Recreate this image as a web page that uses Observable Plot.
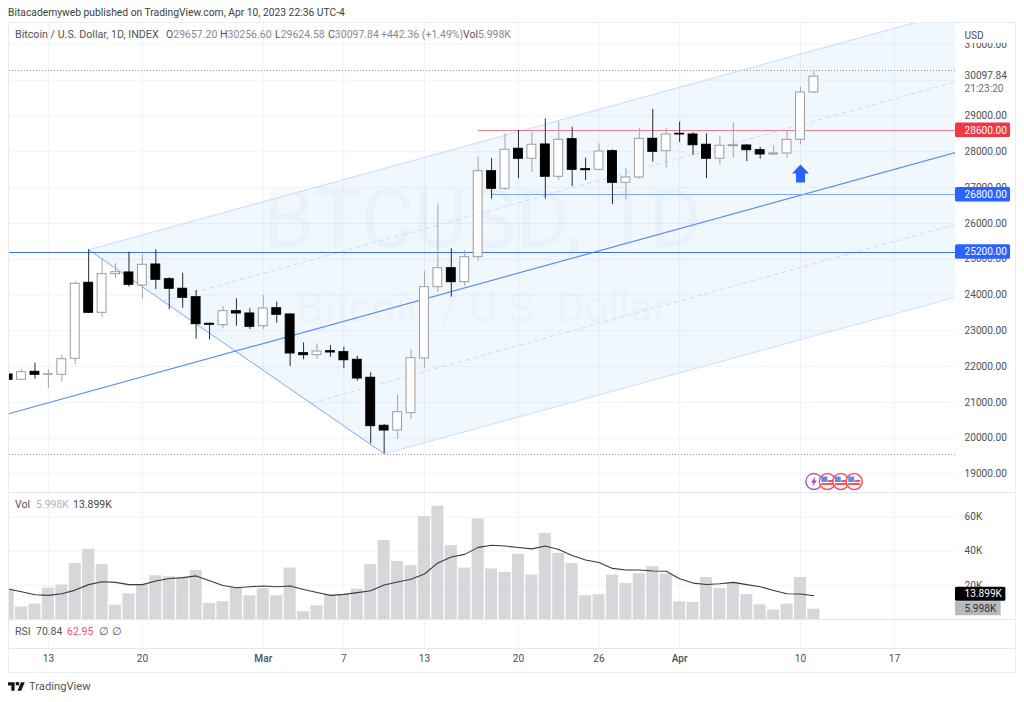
<!DOCTYPE html>
<html><head><meta charset="utf-8">
<script src="https://cdn.jsdelivr.net/npm/d3@7"></script>
<script src="https://cdn.jsdelivr.net/npm/@observablehq/plot@0.6"></script>
<style>
html,body{margin:0;padding:0;background:#fff;overflow:hidden}
#page{position:relative;width:1024px;height:702px;font-family:Roboto,sans-serif;color:#555;overflow:hidden}
.t{position:absolute;white-space:nowrap;font-size:10.5px;line-height:12px}
.pane{position:absolute;left:8px}
.pane svg{display:block}
.sep{position:absolute;left:8px;width:1007px;height:0;border-top:1px solid #e4e7ef}
#frame{position:absolute;left:8px;top:22px;width:1006px;height:649px;border:1px solid #e9ecf3}
</style></head><body>
<div id="page">
<div class="pane" id="price" style="top:23px"></div>
<div class="pane" id="vol" style="top:492px"></div>
<div class="pane" id="rsi" style="top:619px"></div>
<div id="frame"></div>
<div class="sep" style="top:492px"></div>
<div class="sep" style="top:619px"></div>
<div class="sep" style="top:648px"></div>
<div class="t" style="left:8px;top:7px;color:#3c3c3c;font-size:10.3px">Bitacademyweb published on TradingView.com, Apr 10, 2023 22:36 UTC-4</div>
<div class="t" style="left:15px;top:29px;font-size:10.7px">Bitcoin / U.S. Dollar, 1D, INDEX</div>
<div class="t" style="left:166px;top:29px;color:#8a8a8a"><b style="font-weight:400;color:#555">O</b>29657.20</div>
<div class="t" style="left:220px;top:29px;color:#8a8a8a"><b style="font-weight:400;color:#555">H</b>30256.60</div>
<div class="t" style="left:275px;top:29px;color:#8a8a8a"><b style="font-weight:400;color:#555">L</b>29624.58</div>
<div class="t" style="left:328px;top:29px;color:#8a8a8a"><b style="font-weight:400;color:#555">C</b>30097.84</div>
<div class="t" style="left:381px;top:29px;color:#8a8a8a">+442.36 (+1.49%)</div>
<div class="t" style="left:463px;top:29px;color:#8a8a8a"><b style="font-weight:400;color:#555">Vol</b>5.998K</div>
<div class="t" style="left:15px;top:499px">Vol</div>
<div class="t" style="left:36px;top:499px;color:#b4b4b8">5.998K</div>
<div class="t" style="left:73px;top:499px;color:#444">13.899K</div>
<div class="t" style="left:15px;top:626px">RSI</div>
<div class="t" style="left:36px;top:626px;color:#555">70.84</div>
<div class="t" style="left:67px;top:626px;color:#f7525f">62.95</div>
<div class="t" style="left:99px;top:626px">∅</div>
<div class="t" style="left:112px;top:626px">∅</div>
<svg style="position:absolute;left:8px;top:682px" width="17" height="9" viewBox="0 4 36 18"><path d="M14 22H7V11H0V4h14v18zM28 22h-8l7.5-18h8L28 22z" fill="#131722"/><circle cx="20" cy="7" r="4" fill="#131722"/></svg>
<div class="t" style="left:29px;top:681px;font-size:11.2px;color:#555">TradingView</div>
</div>
<script>
// --- Candle data -----------------------------------------------------------
const dates = ["2023-02-10","2023-02-11","2023-02-12","2023-02-13","2023-02-14","2023-02-15","2023-02-16","2023-02-17","2023-02-18","2023-02-19","2023-02-20","2023-02-21","2023-02-22","2023-02-23","2023-02-24","2023-02-25","2023-02-26","2023-02-27","2023-02-28","2023-03-01","2023-03-02","2023-03-03","2023-03-04","2023-03-05","2023-03-06","2023-03-07","2023-03-08","2023-03-09","2023-03-10","2023-03-11","2023-03-12","2023-03-13","2023-03-14","2023-03-15","2023-03-16","2023-03-17","2023-03-18","2023-03-19","2023-03-20","2023-03-21","2023-03-22","2023-03-23","2023-03-24","2023-03-25","2023-03-26","2023-03-27","2023-03-28","2023-03-29","2023-03-30","2023-03-31","2023-04-01","2023-04-02","2023-04-03","2023-04-04","2023-04-05","2023-04-06","2023-04-07","2023-04-08","2023-04-09","2023-04-10","2023-04-11"];
const opens = [21779,21631,21854,21771,21771,22217,24340,23502,24580,24628,24265,24851,24441,24173,23938,23195,23156,23547,23483,23128,23631,23455,22374,22318,22430,22402,22190,21687,20346,20215,20698,22226,24217,24748,24357,25055,27457,26966,28083,27804,28203,27301,28351,27513,27496,28016,27133,27281,28362,28016,28502,28482,28195,27804,28155,28175,28044,27924,27952,28334,29657.2];
const highs = [21947,21910,22095,21910,22310,24368,25262,25011,24871,25195,25122,25262,24480,24608,24125,23212,23678,23893,23614,23985,23798,23474,22664,22636,22589,22542,22290,21826,20380,21212,22469,24656,26547,25290,25242,27848,27804,28502,28594,28530,28921,28826,28686,27820,28222,28055,27524,28658,29181,28658,28826,28530,28502,28446,28798,28195,28127,28175,28566,29803,30256.6];
const lows = [21444,21611,21648,21388,21556,22050,23480,23379,24452,24217,23874,24153,23586,23631,22765,22748,23055,23128,23036,23036,23212,22002,22190,22198,22262,21938,21592,19843,19564,19964,20522,21955,24069,23938,24237,24943,26675,26918,27245,27421,26675,27197,27030,27197,27477,26527,26658,27240,27709,27541,28259,27896,27253,27625,27832,27728,27792,27887,27820,28195,29624.58];
const closes = [21631,21843,21771,21787,22206,24312,23502,24580,24636,24284,24843,24424,24173,23921,23184,23167,23547,23483,23111,23622,23446,22366,22318,22421,22393,22178,21667,20335,20215,20726,22234,24217,24748,24357,25055,27457,26966,28055,27804,28195,27301,28334,27496,27485,28007,27133,27281,28362,27999,28482,28482,28183,27804,28167,28183,28044,27924,27952,28334,29655,30097.84];
const volumes = [17.8,7.4,9.0,18.4,20.2,32.7,41.1,32.1,8.4,15.1,20.4,25.6,25.0,24.0,28.6,9.4,10.4,18.6,13.9,18.0,13.9,30.1,4.5,8.0,13.9,14.5,17.8,32.1,46.2,34.0,31.5,60.2,66.3,43.2,30.1,58.9,29.6,27.6,38.1,26.0,50.3,38.7,32.7,13.9,14.5,26.0,21.1,26.8,30.9,26.6,10.4,10.0,24.6,18.2,21.7,14.5,8.6,5.5,9.0,24.6,5.998];
const volumeMA = [17.8,16.2,14.5,14.1,15.1,17.2,20.4,22.1,21.7,20.4,20.4,22.5,24.0,24.5,25.5,22.7,19.9,18.6,19.2,19.6,19.2,19.6,17.6,15.8,14.1,14.7,15.7,16.8,20.2,21.9,23.5,26.6,33.1,36.6,38.1,42.2,43.4,43.0,42.1,41.3,43.0,40.9,37.5,34.8,33.3,29.9,29.0,29.0,28.4,28.2,23.9,21.3,20.5,20.9,21.7,20.4,19.2,17.0,15.1,14.9,13.899];

// --- Axis ticks -------------------------------------------------------------
const gridPrices = [19000,20000,21000,22000,23000,24000,25000,26000,27000,28000,29000,30000,31000];
const axisPrices = [19000,20000,21000,22000,23000,24000,25000,26000,27000,28000,29000,31000];
const volTicks = [20,40,60];
const dayTicks = ["2023-02-13","2023-02-20","2023-03-07","2023-03-13","2023-03-20","2023-03-26","2023-04-10","2023-04-17"];
const dayTickLabels = ["13","20","7","13","20","26","10","17"];
const monthTicks = ["2023-03-01","2023-04-01"];
const monthTickLabels = ["Mar","Apr"];

// --- Drawing tools, in date/price terms ------------------------------------
const viewStart = "2023-02-10T02:30:00Z", viewEnd = "2023-04-21T13:00:00Z";
const highLow = [30256.6, 19558];
const fillX = ["2023-02-16","2023-03-10",viewEnd];
const fillUpper = [25262,27533,31917];
const fillLower = [25262,19564,23938];
const handleX = ["2023-02-16","2023-03-10"], handleY = [25262,19564];
const medianX = [viewStart,viewEnd], medianY = [20690,27979];
const upperX = ["2023-02-16",viewEnd], upperY = [25262,31917];
const lowerX = ["2023-03-10",viewEnd], lowerY = [19564,23938];
const dashUpX = ["2023-02-21T13:30:00Z",viewEnd], dashUpY = [23832,29949];
const dashLowX = ["2023-03-04T14:00:00Z",viewEnd], dashLowY = [20983,25968];
const levelPrices = [28600,26800,25200];
const levelStarts = ["2023-03-17","2023-03-18",viewStart];
const levelColors = ["#ee7f8a","#7fa8fa","#3f70e2"];
const levelPlates = ["#f23645","#2962ff","#2962ff"];
const arrowDate = "2023-04-10", arrowPrice = 27393;
const eventDates = ["2023-04-12","2023-04-13","2023-04-14"], lightningDate = "2023-04-11", eventPrice = 18790;

const D = s => new Date(s);
const shift = (d, days) => new Date(+d + days * 864e5);
const pts = (xs, ys) => xs.map((x, i) => ({x: D(x), y: ys[i]}));

const candles = dates.map((s, i) => ({date: D(s), open: opens[i], high: highs[i], low: lows[i], close: closes[i], vol: volumes[i], ma: volumeMA[i]}));
const up = candles.filter(d => d.close >= d.open);
const down = candles.filter(d => d.close < d.open);
const xDomain = [D(viewStart), D(viewEnd)];
const allX = [...dayTicks, ...monthTicks].map(D);
const W = 1007, gridC = "#f0f3fa", ink = "#4c4f57", axisFont = 10.15;
const style = {fontFamily: "Roboto, sans-serif", background: "transparent", color: ink, overflow: "visible"};

// glyph shapes for symbols
const arrowSym = {draw(c){c.moveTo(0,-9);c.lineTo(8.5,0);c.lineTo(4.5,0);c.lineTo(4.5,9);c.lineTo(-4.5,9);c.lineTo(-4.5,0);c.lineTo(-8.5,0);c.closePath();}};
const boltSym = {draw(c){c.moveTo(1.5,-5);c.lineTo(-3,1);c.lineTo(-0.5,1);c.lineTo(-1.5,5);c.lineTo(3,-1);c.lineTo(0.5,-1);c.closePath();}};
const flagBlue = {draw(c){c.rect(-6,-5,6,5.5);}};
const flagRed = {draw(c){c.rect(0.5,-1.5,5.5,2);c.rect(-6,1.5,12,2);}};

const rightEdge = D(viewEnd);
const plates = levelPrices.map((p, i) => ({p, c: levelPlates[i]}));

document.getElementById("price").append(Plot.plot({
  width: W, height: 469, marginLeft: 1, marginRight: 60, marginTop: 0, marginBottom: 0, style,
  x: {type: "utc", domain: xDomain, axis: null},
  y: {domain: [18483, 31582]},
  marks: [
    Plot.gridY(gridPrices, {stroke: gridC, strokeOpacity: 1}),
    Plot.gridX(allX, {stroke: gridC, strokeOpacity: 1}),
    Plot.text(["BTCUSD, 1D"], {frameAnchor: "middle", dy: -37, fontSize: 82, fill: "#787b86", fillOpacity: 0.045}),
    Plot.text(["Bitcoin / U.S. Dollar"], {frameAnchor: "middle", dy: 50, fontSize: 43, fill: "#787b86", fillOpacity: 0.05}),
    Plot.areaY(fillX.map((x, i) => ({x: D(x), a: fillLower[i], b: fillUpper[i]})), {x: "x", y1: "a", y2: "b", fill: "#2196f3", fillOpacity: 0.065, clip: true}),
    Plot.ruleY(highLow, {stroke: "#9a9a9a", strokeDasharray: "1,2", strokeWidth: 1, shapeRendering: "crispEdges"}),
    Plot.line(pts(upperX, upperY), {x: "x", y: "y", stroke: "#c8dcfb", strokeWidth: 1, clip: true}),
    Plot.line(pts(lowerX, lowerY), {x: "x", y: "y", stroke: "#c8dcfb", strokeWidth: 1, clip: true}),
    Plot.line(pts(dashUpX, dashUpY), {x: "x", y: "y", stroke: "#c8dcfb", strokeWidth: 1, strokeDasharray: "4,4", clip: true}),
    Plot.line(pts(dashLowX, dashLowY), {x: "x", y: "y", stroke: "#c8dcfb", strokeWidth: 1, strokeDasharray: "4,4", clip: true}),
    Plot.line(pts(handleX, handleY), {x: "x", y: "y", stroke: "#7ba6f6", strokeWidth: 1, clip: true}),
    Plot.line(pts(medianX, medianY), {x: "x", y: "y", stroke: "#5b8ef5", strokeWidth: 1.2, clip: true}),
    Plot.ruleY(levelPrices.map((p, i) => ({p, s: D(levelStarts[i]), c: levelColors[i]})), {y: "p", x1: "s", x2: () => rightEdge, stroke: "c", strokeWidth: 1, shapeRendering: "crispEdges"}),
    Plot.ruleX(down, {x: "date", y1: "low", y2: "high", stroke: "#2a2a2a", clip: true}),
    Plot.ruleX(up, {x: "date", y1: "low", y2: "high", stroke: "#a4a4a4", clip: true}),
    Plot.rect(up, {x1: d => shift(d.date, -0.33), x2: d => shift(d.date, 0.33), y1: "open", y2: "close", fill: "white", stroke: "#9c9c9c", clip: true}),
    Plot.rect(down, {x1: d => shift(d.date, -0.33), x2: d => shift(d.date, 0.33), y1: "open", y2: "close", fill: "black", stroke: "black", clip: true}),
    Plot.dot([{x: D(arrowDate), y: arrowPrice}], {x: "x", y: "y", symbol: arrowSym, r: 9, fill: "#2962ff", stroke: "none"}),
    Plot.dot([{x: D(lightningDate), y: eventPrice}], {x: "x", y: "y", r: 8, fill: "white", stroke: "#ab47bc", strokeWidth: 1.3}),
    Plot.dot([{x: D(lightningDate), y: eventPrice}], {x: "x", y: "y", symbol: boltSym, r: 5, fill: "#ab47bc", stroke: "none"}),
    Plot.dot(eventDates.map(D), {x: d => d, y: () => eventPrice, r: 8, fill: "white", stroke: "#f7525f", strokeWidth: 1.5}),
    Plot.dot(eventDates.map(D), {x: d => d, y: () => eventPrice, symbol: flagBlue, r: 5, fill: "#5b8ef5", stroke: "none"}),
    Plot.dot(eventDates.map(D), {x: d => d, y: () => eventPrice, symbol: flagRed, r: 5, fill: "#f7525f", stroke: "none"}),
    Plot.axisY(axisPrices, {anchor: "right", tickSize: 0, tickPadding: 9, fontSize: axisFont, tickFormat: d => d.toFixed(2), fill: ink}),
    // USD unit with a blank plate over the top tick
    Plot.rect([31247], {x1: () => rightEdge, x2: () => shift(rightEdge, 4), y1: d => d - 220, y2: d => d + 220, fill: "white"}),
    Plot.text(["USD"], {x: () => rightEdge, y: () => 31247, dx: 9, textAnchor: "start", fontSize: axisFont, fill: ink}),
    Plot.text(["30097.84"], {x: () => rightEdge, y: () => 30130, dx: 9, textAnchor: "start", fontSize: axisFont, fill: ink}),
    Plot.text(["21:23:20"], {x: () => rightEdge, y: () => 29767, dx: 9, textAnchor: "start", fontSize: axisFont, fill: "#6a6d75"}),
    Plot.rect(plates, {x1: () => rightEdge, x2: () => shift(rightEdge, 4.1), y1: d => d.p - 205, y2: d => d.p + 205, fill: "c", rx: 1.5}),
    Plot.text(levelPrices, {x: () => rightEdge, y: d => d, dx: 9, textAnchor: "start", fontSize: axisFont, fill: "white", text: d => d.toFixed(2)})
  ]
}));

const volLabelPos = [14.8, 6.3];
document.getElementById("vol").append(Plot.plot({
  width: W, height: 127, marginLeft: 1, marginRight: 60, marginTop: 0, marginBottom: 0, style,
  x: {type: "utc", domain: xDomain, axis: null},
  y: {domain: [0, 74.3]},
  marks: [
    Plot.gridY(volTicks, {stroke: gridC, strokeOpacity: 1}),
    Plot.gridX(allX, {stroke: gridC, strokeOpacity: 1}),
    Plot.rectY(candles, {x1: d => shift(d.date, -0.45), x2: d => shift(d.date, 0.45), y: "vol", fill: "#d6d7da", clip: true}),
    Plot.line(candles, {x: "date", y: "ma", stroke: "#3a3a3e", strokeWidth: 1.1, clip: true}),
    Plot.axisY(volTicks, {anchor: "right", tickSize: 0, tickPadding: 9, fontSize: axisFont, tickFormat: d => d + "K", fill: ink}),
    Plot.rect([volLabelPos[1]], {x1: () => rightEdge, x2: () => shift(rightEdge, 3.4), y1: d => d - 4.1, y2: d => d + 4.1, fill: "#b8b9bd"}),
    Plot.text(["5.998K"], {x: () => rightEdge, y: () => volLabelPos[1], dx: 9, textAnchor: "start", fontSize: axisFont, fill: "#333"}),
    Plot.rect([volLabelPos[0]], {x1: () => rightEdge, x2: () => shift(rightEdge, 3.75), y1: d => d - 4.1, y2: d => d + 4.1, fill: "black", rx: 1.5}),
    Plot.text(["13.899K"], {x: () => rightEdge, y: () => volLabelPos[0], dx: 9, textAnchor: "start", fontSize: axisFont, fill: "white"})
  ]
}));

const rsiPane = Plot.plot({
  width: W, height: 52, marginLeft: 1, marginRight: 60, marginTop: 0, marginBottom: 23, style,
  x: {type: "utc", domain: xDomain},
  y: {domain: [0, 100], axis: null},
  marks: [
    Plot.gridX(allX, {stroke: gridC, strokeOpacity: 1}),
    Plot.axisX(dayTicks.map(D), {anchor: "bottom", tickSize: 0, tickPadding: 6, fontSize: axisFont, fill: ink, label: null,
      tickFormat: d => dayTickLabels[dayTicks.findIndex(s => +D(s) === +d)]}),
    Plot.axisX(monthTicks.map(D), {anchor: "bottom", tickSize: 0, tickPadding: 6, fontSize: axisFont, fontWeight: 500, fill: ink, label: null,
      tickFormat: d => monthTickLabels[monthTicks.findIndex(s => +D(s) === +d)]})
  ]
});
document.getElementById("rsi").append(rsiPane);
</script>
</body></html>
